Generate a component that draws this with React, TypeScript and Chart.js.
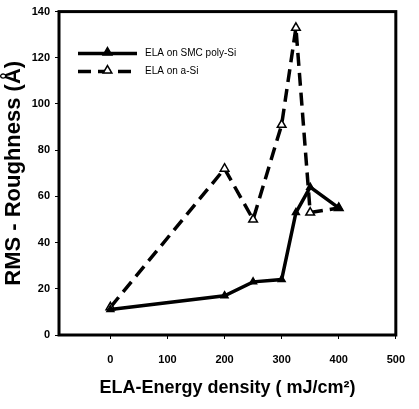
import React, { useEffect, useRef } from "react";
import { Chart, registerables } from "chart.js";

Chart.register(...registerables);

const energy = [0, 200, 250, 300, 325, 350, 400];
const smcPolySi = [11, 17, 23, 24, 53, 64, 55];
const aSi = [12, 72, 50, 91, 133, 53, 55];
const xTickValues = [0, 100, 200, 300, 400, 500];
const yTickValues = [0, 20, 40, 60, 80, 100, 120, 140];
const seriesLabels = ["ELA on SMC poly-Si", "ELA on a-Si"];
const xTitle = "ELA-Energy density ( mJ/cm²)";
const yTitle = "RMS - Roughness (Å)";

const FONT = "'Liberation Sans', Arial, sans-serif";

function triangle(ctx: CanvasRenderingContext2D, x: number, y: number, r: number, fill: string) {
  ctx.save();
  ctx.beginPath();
  ctx.moveTo(x, y - r);
  ctx.lineTo(x + r * 0.87, y + r * 0.5);
  ctx.lineTo(x - r * 0.87, y + r * 0.5);
  ctx.closePath();
  ctx.fillStyle = fill;
  ctx.fill();
  ctx.lineWidth = 1.5;
  ctx.strokeStyle = "#000";
  ctx.setLineDash([]);
  ctx.stroke();
  ctx.restore();
}

const framePlugin = {
  id: "frame",
  beforeDatasetsDraw(chart: any) {
    const { left, top, right, bottom } = chart.chartArea;
    const ctx = chart.ctx;
    ctx.save();
    ctx.strokeStyle = "#000";
    ctx.lineWidth = 3;
    ctx.strokeRect(left, top, right - left, bottom - top);
    ctx.restore();
  },
};

const legendPlugin = {
  id: "insideLegend",
  afterDraw(chart: any) {
    const ctx = chart.ctx;
    const { left, top } = chart.chartArea;
    chart.data.datasets.forEach((ds: any, i: number) => {
      const y = top + 42 + i * 18;
      const x0 = left + 19;
      const x1 = left + 78;
      const xm = (x0 + x1) / 2;
      ctx.save();
      ctx.strokeStyle = "#000";
      ctx.lineWidth = 3.5;
      ctx.setLineDash(ds.borderDash || []);
      ctx.beginPath();
      ctx.moveTo(x0, y);
      ctx.lineTo(x1, y);
      ctx.stroke();
      ctx.restore();
      triangle(ctx, xm, y - 1, 5, ds.pointBackgroundColor);
      ctx.save();
      ctx.fillStyle = "#000";
      ctx.font = `10px ${FONT}`;
      ctx.textBaseline = "middle";
      ctx.textAlign = "left";
      ctx.fillText(ds.label, left + 86, y);
      ctx.restore();
    });
  },
};

export default function App() {
  const ref = useRef<HTMLCanvasElement>(null);
  useEffect(() => {
    if (!ref.current) return;
    const chart = new Chart(ref.current, {
      type: "line",
      data: {
        datasets: [
          {
            label: seriesLabels[0],
            data: energy.map((x, i) => ({ x, y: smcPolySi[i] })),
            borderColor: "#000",
            borderWidth: 3.5,
            pointStyle: "triangle",
            pointRadius: 4,
            pointBackgroundColor: "#000",
            pointBorderColor: "#000",
            pointBorderWidth: 1.5,
            tension: 0,
          },
          {
            label: seriesLabels[1],
            data: energy.map((x, i) => ({ x, y: aSi[i] })),
            borderColor: "#000",
            borderWidth: 3.5,
            borderDash: [13, 7],
            pointStyle: "triangle",
            pointRadius: 5,
            pointBackgroundColor: "#fff",
            pointBorderColor: "#000",
            pointBorderWidth: 1.5,
            tension: 0,
          },
        ],
      },
      options: {
        animation: false,
        responsive: false,
        devicePixelRatio: 1,
        layout: { padding: { top: 11, right: 9, left: 0, bottom: 0 } },
        plugins: { legend: { display: false }, tooltip: { enabled: false } },
        scales: {
          x: {
            type: "linear",
            min: -90,
            max: 500,
            afterBuildTicks: (s: any) => {
              s.ticks = xTickValues.map((v) => ({ value: v }));
            },
            afterFit: (s: any) => {
              s.height = 74;
            },
            border: { display: false },
            grid: { drawOnChartArea: false, drawTicks: true, tickLength: 4, color: "#000", lineWidth: 1 },
            ticks: {
              color: "#000",
              font: { family: FONT, size: 11, weight: "bold" },
              padding: 14,
              maxRotation: 0,
            },
            title: {
              display: true,
              text: xTitle,
              color: "#000",
              font: { family: FONT, size: 18, weight: "bold" },
              padding: { top: 0, bottom: 10 },
            },
          },
          y: {
            type: "linear",
            min: 0,
            max: 140,
            afterBuildTicks: (s: any) => {
              s.ticks = yTickValues.map((v) => ({ value: v }));
            },
            afterFit: (s: any) => {
              s.width = 59;
            },
            border: { display: false },
            grid: { drawOnChartArea: false, drawTicks: true, tickLength: 4, color: "#000", lineWidth: 1 },
            ticks: {
              color: "#000",
              font: { family: FONT, size: 11, weight: "bold" },
              padding: 5,
            },
            title: {
              display: true,
              text: yTitle,
              color: "#000",
              font: { family: FONT, size: 22, weight: "bold" },
              padding: { top: 1, bottom: 0 },
            },
          },
        },
      },
      plugins: [framePlugin, legendPlugin],
    });
    return () => chart.destroy();
  }, []);
  return (
    <div style={{ position: "fixed", left: 0, top: 0, width: 419, height: 409, background: "#fff" }}>
      <canvas ref={ref} width={419} height={409} style={{ width: 419, height: 409, display: "block" }} />
    </div>
  );
}
